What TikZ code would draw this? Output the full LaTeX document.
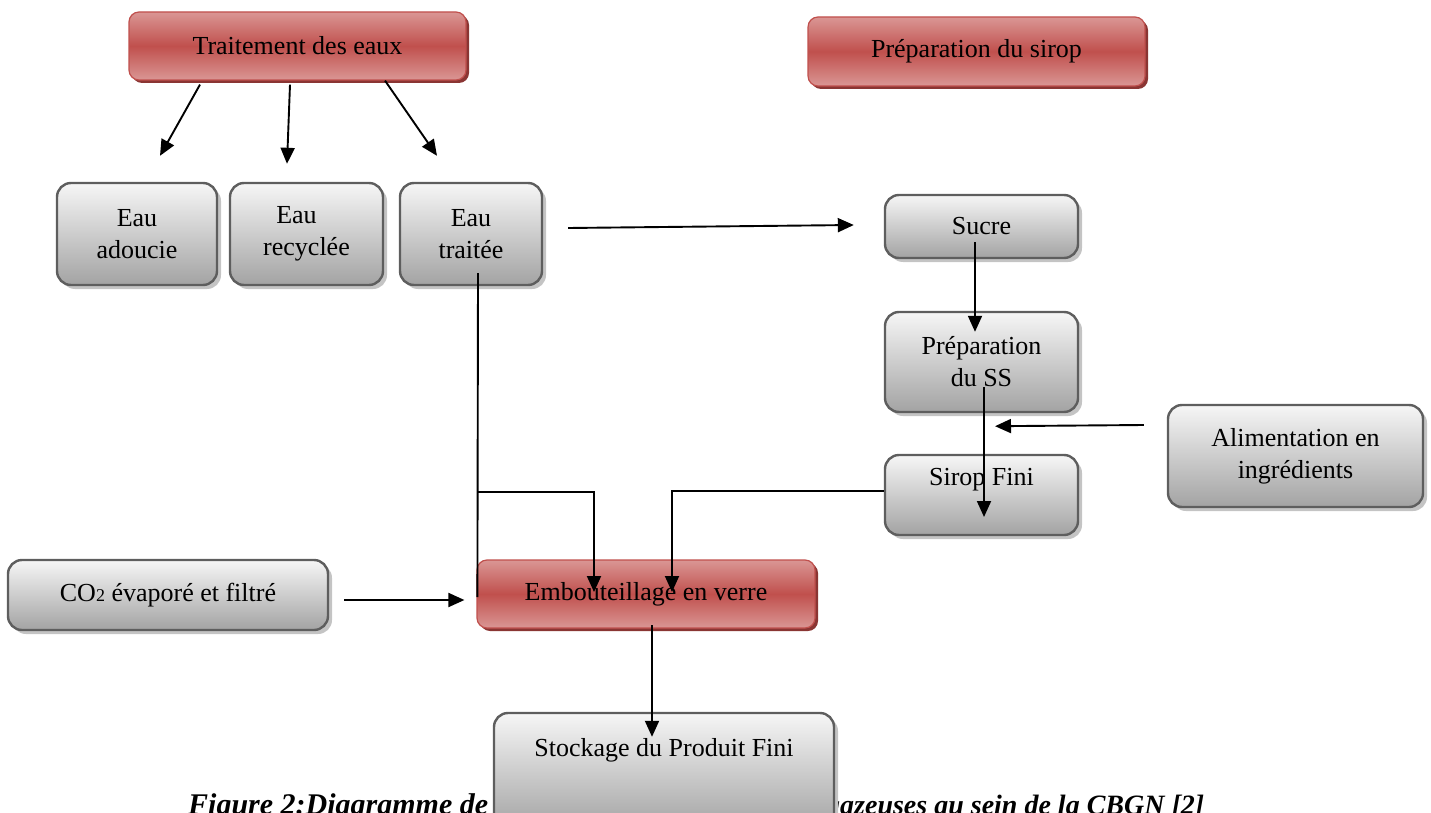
\documentclass[tikz,border=0pt]{standalone}
\usepackage{fontspec}
\setmainfont{Liberation Serif}
\usetikzlibrary{arrows.meta,calc,shadows}

\definecolor{redmid}{HTML}{C0504D}
\definecolor{redlite}{HTML}{DA9694}
\definecolor{redshadow}{HTML}{8A3533}
\definecolor{greytop}{HTML}{F6F6F6}
\definecolor{greybot}{HTML}{A3A3A3}
\definecolor{greyedge}{HTML}{5E5E5E}
\definecolor{greyshadow}{HTML}{C4C4C4}

\tikzset{
  boxfont/.style={font=\fontsize{26}{32}\selectfont},
  redbox/.style={boxfont, rectangle, rounded corners=10pt, draw=redmid,
    line width=1.2pt, top color=redlite, bottom color=redlite, middle color=redmid,
    inner sep=0pt, align=center,
    drop shadow={shadow xshift=3pt, shadow yshift=-3pt, fill=redshadow, opacity=1}},
  greybox/.style={boxfont, rectangle, rounded corners=14pt, draw=greyedge,
    line width=2.4pt, top color=greytop, bottom color=greybot,
    inner sep=0pt, align=center,
    drop shadow={shadow xshift=4pt, shadow yshift=-4pt, fill=greyshadow, opacity=1}},
  arr/.style={line width=1.9pt, -{Triangle[length=16pt,width=14pt]}},
  link/.style={line width=1.9pt},
  caption/.style={font=\bfseries\itshape, inner sep=0pt},
}

\begin{document}
\begin{tikzpicture}[x=1pt, y=-1pt]
\useasboundingbox (0,0) rectangle (1431,813);
\clip (0,0) rectangle (1431,813);

% caption line, partly covered by the storage box
\node[caption, font=\fontsize{30}{34}\selectfont\bfseries\itshape, anchor=base west] (capl) at (188,814) {Figure 2:Diagramme de};
\node[caption, font=\fontsize{28}{32}\selectfont\bfseries\itshape, anchor=base west] (capr) at (826,814) {gazeuses au sein de la CBGN [2]};

% main stages
\node[redbox, minimum width=337pt, minimum height=68pt] (trait) at (297.5,46) {Traitement des eaux};
\node[redbox, minimum width=337pt, minimum height=69pt] (sirop) at (976.5,51.5) {Préparation du sirop};
\node[redbox, minimum width=338pt, minimum height=68pt] (embout) at (646,594) {Embouteillage en verre};

% water outputs
\node[greybox, minimum width=160pt, minimum height=102pt] (adoucie) at (137,234) {Eau\\adoucie};
\node[greybox, minimum width=153pt, minimum height=102pt] (recyclee) at (306.5,234) {Eau\hspace*{20pt}\\recyclée};
\node[greybox, minimum width=142pt, minimum height=102pt] (traitee) at (471,234) {Eau\\traitée};

% syrup line
\node[greybox, minimum width=193pt, minimum height=63pt] (sucre) at (981.5,226.5) {Sucre};
\node[greybox, minimum width=193pt, minimum height=100pt] (prepss) at (981.5,362) {Préparation\\du SS};
\node[greybox, minimum width=193pt, minimum height=80pt] (fini) at (981.5,495) {};
\node[boxfont] (finitxt) at (981.5,480) {Sirop Fini};
\node[greybox, minimum width=255pt, minimum height=102pt] (alim) at (1295.5,456) {Alimentation en\\ingrédients};

% gas and storage
\node[greybox, minimum width=320pt, minimum height=70pt] (co2) at (168,595)
  {CO{\fontsize{18}{20}\selectfont 2} évaporé et filtré};
\node[greybox, minimum width=340pt, minimum height=117pt] (stock) at (664,771.5) {};
\node[boxfont] (stocktxt) at (664,750) {Stockage du Produit Fini};

% connectors
\draw[arr] ($(trait.south)+(-97.5,4)$) -- ($(adoucie.north)+(23,-26)$);
\draw[arr] ($(trait.south)+(-7.5,4)$) -- ($(recyclee.north)+(-19.5,-18)$);
\draw[arr] ($(trait.south)+(87.5,0)$) -- ($(traitee.north)+(-34,-26)$);
\draw[arr] ($(traitee.east)+(25,-6)$) -- ($(sucre.west)+(-30,-1.5)$);

\coordinate (tdrop) at ($(traitee.south)+(7,-13)$);
\coordinate (tbend) at ($(traitee.south)+(7,206)$);
\draw[link] (tdrop) -- ($(embout.west)+(1,3)$);
\draw[arr] (tbend) -| ($(embout.center)+(-52,-2)$);
\draw[arr] ($(fini.west)+(0,-4)$) -| ($(embout.center)+(26,-2)$);

\draw[arr] ($(sucre.center)+(-6.5,15.5)$) -- ($(prepss.north)+(-6.5,21)$);
\draw[arr] ($(prepss.center)+(2.5,25)$) -- ($(fini.center)+(2.5,22)$);
\draw[arr] ($(alim.west)+(-23,-31)$) -- ($(prepss.south)+(13.5,13)$);

\draw[arr] ($(co2.east)+(15,5)$) -- ($(embout.west)+(-12,6)$);
\draw[arr] ($(embout.center)+(6,31)$) -- ($(stock.north)+(-12,25)$);
\end{tikzpicture}
\end{document}
